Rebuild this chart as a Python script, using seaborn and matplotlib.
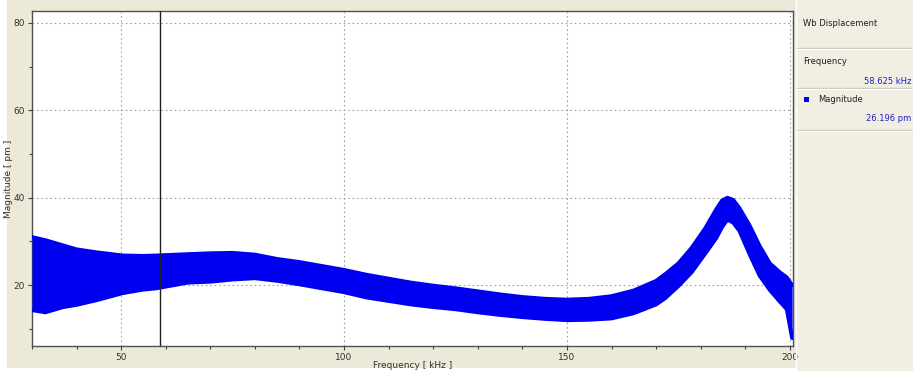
import matplotlib
matplotlib.use("Agg")
import matplotlib.pyplot as plt
import seaborn as sns
import numpy as np
from matplotlib.patches import Rectangle
from matplotlib.lines import Line2D
from matplotlib.ticker import MultipleLocator

# ---- data (band envelope of the magnitude scatter) ----
freq_khz = [30, 33, 37, 40, 44.6, 50.4, 55, 58, 65, 70, 75, 80, 85, 90, 95, 100,
            105, 110, 115, 120, 125, 130, 135, 140, 145, 150, 155, 160, 165,
            170, 172, 175, 178, 181, 183.5, 184.8, 186, 187.3, 188.7, 191, 193.2,
            195.5, 197.7, 199.3, 200.5]
mag_upper = [31.0, 30.3, 29.1, 28.2, 27.5, 26.8, 26.7, 26.8, 27.1, 27.3, 27.4,
             27.0, 26.0, 25.3, 24.4, 23.5, 22.4, 21.5, 20.6, 19.9, 19.3, 18.6,
             17.9, 17.3, 16.9, 16.7, 16.9, 17.5, 18.8, 21.0, 22.5, 25.0, 28.6,
             33.0, 37.4, 39.4, 40.0, 39.5, 37.6, 33.6, 29.0, 25.0, 23.0, 21.8,
             20.0]
mag_lower = [14.3, 13.8, 15.0, 15.5, 16.6, 18.2, 19.0, 19.3, 20.6, 20.8, 21.3,
             21.6, 21.0, 20.2, 19.3, 18.4, 17.2, 16.4, 15.6, 15.0, 14.5, 13.8,
             13.2, 12.7, 12.3, 12.0, 12.1, 12.4, 13.6, 15.6, 17.0, 19.8, 23.0,
             27.2, 30.8, 33.3, 35.0, 34.3, 32.4, 27.0, 22.2, 18.9, 16.3, 14.5,
             7.9]
x_ticks = [50, 100, 150, 200]
y_ticks = [20, 40, 60, 80]
cursor_freq = 58.625
cursor_mag = 26.196

BLUE = "#0000F0"
BEIGE = "#ECE9D8"
PANEL = "#F1EFE4"

sns.set_style("white")
plt.rcParams['font.family'] = ['DejaVu Sans']

W, H = 913, 371
fig = plt.figure(figsize=(W / 100, H / 100), dpi=100)
fig.patch.set_facecolor("white")

def fx(px):
    return px / W

def fy(py):
    return 1 - py / H

# backgrounds
fig.add_artist(Rectangle((fx(7), fy(368)), fx(790), 368 / H, transform=fig.transFigure,
                         facecolor=BEIGE, edgecolor="none", zorder=0))
fig.add_artist(Rectangle((fx(797), 0), fx(W - 797), 1, transform=fig.transFigure,
                         facecolor=PANEL, edgecolor="none", zorder=0))
fig.add_artist(Line2D([fx(796), fx(796)], [0, 1], transform=fig.transFigure,
                      color="#FFFFFF", lw=1, zorder=1))

ax = fig.add_axes([fx(32), fy(346), fx(793 - 32), (346 - 11) / H])
ax.set_facecolor("white")

ax.fill_between(freq_khz, mag_lower, mag_upper, color=BLUE, lw=0, zorder=3)
sns.lineplot(x=freq_khz, y=mag_upper, ax=ax, color=BLUE, lw=2.8, zorder=3)
sns.lineplot(x=freq_khz, y=mag_lower, ax=ax, color=BLUE, lw=2.8, zorder=3)

ax.axvline(cursor_freq, color="#202020", lw=1.0, zorder=4)

ax.set_xlim(30, 200.7)
ax.set_ylim(6.1, 82.7)
ax.set_xticks(x_ticks)
ax.set_yticks(y_ticks)
ax.xaxis.set_minor_locator(MultipleLocator(10))
ax.yaxis.set_minor_locator(MultipleLocator(10))
ax.grid(True, which="major", color="#A0A0A0", linestyle=(0, (1.5, 2.5)), lw=0.8, zorder=1)
ax.tick_params(which="major", direction="out", length=3, width=0.8, colors="#404040",
               labelsize=6.5, labelcolor="#303030", pad=2, bottom=True, left=True)
ax.tick_params(which="minor", direction="out", length=2, width=0.8, colors="#404040",
               bottom=True, left=True)
for s in ax.spines.values():
    s.set_color("#505050")
    s.set_linewidth(1.0)

ax.set_xlabel("Frequency [ kHz ]", fontsize=6.5, color="#303030")
ax.xaxis.set_label_coords(0.5, -0.045)
ax.set_ylabel("Magnitude [ pm ]", fontsize=6.5, color="#303030", va="center")
ax.yaxis.set_label_coords(-0.031, 0.5)

# right info panel
def sep(py):
    fig.add_artist(Line2D([fx(797), 1], [fy(py), fy(py)], transform=fig.transFigure,
                          color="#C5C2B2", lw=1, zorder=2))
    fig.add_artist(Line2D([fx(797), 1], [fy(py + 1), fy(py + 1)], transform=fig.transFigure,
                          color="#FFFFFF", lw=1, zorder=2))

fig.text(fx(803), fy(23), "Wb Displacement", fontsize=6, color="#202020", va="center")
sep(48)
fig.text(fx(803), fy(62), "Frequency", fontsize=6, color="#202020", va="center")
fig.text(fx(911), fy(81), f"{cursor_freq:.3f} kHz", fontsize=6, color="#2020C0",
         va="center", ha="right")
sep(88)
fig.add_artist(Rectangle((fx(804), fy(102)), fx(5), 5 / H, transform=fig.transFigure,
                         facecolor=BLUE, edgecolor="none", zorder=3))
fig.text(fx(818), fy(100), "Magnitude", fontsize=6, color="#202020", va="center")
fig.text(fx(911), fy(119), f"{cursor_mag:.3f} pm", fontsize=6, color="#2020C0",
         va="center", ha="right")
sep(130)

fig.savefig("out.png", dpi=100)
